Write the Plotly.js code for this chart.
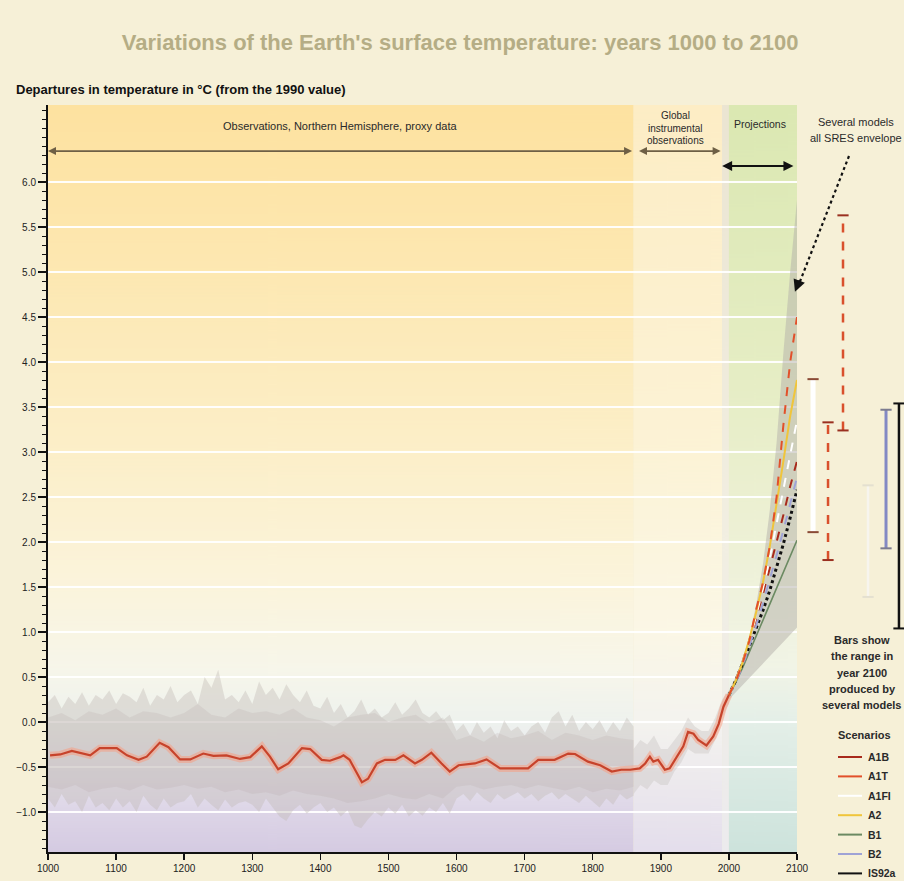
<!DOCTYPE html>
<html><head><meta charset="utf-8">
<script src="https://cdn.plot.ly/plotly-3.0.1.min.js"></script>
<style>html,body{margin:0;padding:0;background:#f6f0d7;}#chart{width:904px;height:881px;}</style>
</head><body><div id="chart"></div>
<script>
// ================= DATA =================
const proxyYears = [1000,1010,1020,1030,1040,1050,1060,1070,1080,1090,
  1100,1110,1120,1130,1140,1150,1160,1170,1180,1190,
  1200,1210,1220,1230,1240,1250,1260,1270,1280,1290,
  1300,1310,1320,1330,1340,1350,1360,1370,1380,1390,
  1400,1410,1420,1430,1440,1450,1460,1470,1480,1490,
  1500,1510,1520,1530,1540,1550,1560,1570,1580,1590,
  1600,1610,1620,1630,1640,1650,1660,1670,1680,1690,
  1700,1710,1720,1730,1740,1750,1760,1770,1780,1790,
  1800,1810,1820,1830,1840,1850,1860];
const proxyHigh = [0.22,0.30,0.15,0.28,0.20,0.33,0.18,0.30,0.25,0.35,
  0.20,0.32,0.28,0.22,0.38,0.18,0.30,0.25,0.40,0.22,
  0.30,0.35,0.20,0.50,0.38,0.58,0.25,0.30,0.22,0.35,
  0.20,0.45,0.30,0.38,0.25,0.42,0.30,0.22,0.35,0.18,
  0.15,0.28,0.10,0.20,0.05,0.12,0.25,0.08,0.15,0.05,
  0.10,0.22,0.08,0.15,0.25,0.10,0.05,0.12,0.02,0.08,
  -0.10,-0.02,-0.15,0.00,-0.12,-0.05,-0.18,0.02,-0.10,-0.05,
  -0.15,-0.05,0.00,-0.12,0.05,0.12,-0.05,0.08,-0.10,0.00,
  -0.08,0.02,-0.12,0.00,-0.10,0.05,-0.05];
const proxyLow = [-0.85,-0.95,-0.80,-0.92,-0.88,-1.00,-0.82,-0.95,-0.90,-0.98,
  -0.85,-0.95,-0.88,-1.00,-0.82,-0.92,-0.98,-0.85,-0.95,-0.90,
  -0.88,-0.80,-0.95,-0.85,-0.92,-0.98,-0.86,-0.95,-0.90,-0.88,
  -0.92,-1.00,-0.85,-0.95,-1.05,-1.10,-0.98,-0.92,-1.02,-0.95,
  -0.90,-1.00,-0.95,-1.05,-0.98,-1.15,-1.18,-1.08,-1.00,-1.05,
  -0.95,-1.02,-0.92,-1.05,-0.98,-1.04,-0.95,-1.00,-0.90,-1.02,
  -0.85,-0.80,-0.88,-0.78,-0.85,-0.90,-0.80,-0.86,-0.82,-0.78,
  -0.85,-0.80,-0.88,-0.82,-0.78,-0.86,-0.80,-0.85,-0.90,-0.82,
  -0.88,-0.95,-0.85,-0.92,-0.80,-0.86,-0.82];
const coreYears = [1000,1020,1040,1060,1080,1100,1120,1140,1160,1180,
  1200,1220,1240,1260,1280,1300,1320,1340,1360,1380,
  1400,1420,1440,1460,1480,1500,1520,1540,1560,1580,
  1600,1620,1640,1660,1680,1700,1720,1740,1760,1780,
  1800,1820,1840,1860];
const coreHigh = [0.05,0.10,0.02,0.12,0.08,0.15,0.05,0.12,0.10,0.05,
  0.10,0.20,0.08,0.05,0.15,0.10,0.12,0.08,0.15,0.05,
  0.02,-0.05,0.05,0.08,0.10,0.00,0.05,0.08,-0.02,0.05,
  -0.20,-0.15,-0.22,-0.12,-0.18,-0.15,-0.10,-0.20,-0.12,-0.15,
  -0.20,-0.15,-0.18,-0.20];
const coreLow = [-0.72,-0.75,-0.70,-0.78,-0.74,-0.72,-0.76,-0.70,-0.75,-0.73,
  -0.70,-0.74,-0.72,-0.78,-0.75,-0.80,-0.78,-0.82,-0.76,-0.80,
  -0.82,-0.85,-0.90,-0.88,-0.85,-0.80,-0.84,-0.86,-0.80,-0.85,
  -0.72,-0.70,-0.75,-0.72,-0.70,-0.74,-0.70,-0.73,-0.76,-0.72,
  -0.78,-0.74,-0.76,-0.72];
const instrYears = [1860,1870,1880,1890,1900,1910,1920,1930,1940,1950,1960,1970,1980,1990,2000];
const instrHigh = [-0.30,-0.20,-0.25,-0.15,-0.30,-0.30,-0.20,-0.10,0.05,-0.05,-0.10,-0.10,0.05,0.25,0.35];
const instrLow  = [-0.80,-0.70,-0.75,-0.65,-0.70,-0.70,-0.55,-0.45,-0.30,-0.35,-0.35,-0.35,-0.20,0.05,0.20];

const redYears = [1003,1018,1035,1052,1062,1076,1101,1116,1133,1145,1164,1177,1194,1209,1228,1243,1262,1282,1297,
  1314,1326,1338,1353,1373,1385,1402,1414,1429,1434,1443,1461,1470,1483,1495,1510,1522,1539,1549,1563,1578,1590,
  1603,1627,1644,1664,1705,1720,1744,1764,1774,1793,1811,1828,1842,1855,1869,1877,1884,1889,1896,1906,1913,1923,
  1933,1940,1948,1955,1967,1977,1985,1992,2000];
const redTemps = [-0.37,-0.36,-0.32,-0.35,-0.37,-0.29,-0.29,-0.37,-0.42,-0.385,-0.23,-0.28,-0.415,-0.415,-0.35,-0.375,-0.37,-0.41,-0.39,
  -0.27,-0.385,-0.525,-0.46,-0.29,-0.30,-0.42,-0.43,-0.39,-0.37,-0.42,-0.67,-0.63,-0.46,-0.42,-0.42,-0.37,-0.46,-0.42,-0.34,-0.46,-0.55,
  -0.48,-0.46,-0.415,-0.515,-0.515,-0.42,-0.42,-0.35,-0.355,-0.44,-0.48,-0.55,-0.53,-0.53,-0.515,-0.46,-0.385,-0.44,-0.42,-0.53,-0.515,-0.385,
  -0.27,-0.11,-0.13,-0.20,-0.26,-0.16,-0.02,0.17,0.30];

const projYears = [2000,2010,2020,2030,2040,2050,2060,2070,2080,2090,2100];
const envHigh = [0.35,0.50,0.70,0.95,1.30,1.75,2.35,3.10,4.10,5.00,5.80];
const envLow  = [0.25,0.33,0.42,0.50,0.58,0.66,0.74,0.82,0.90,0.98,1.05];
const scenarioNames = ['A1B','A1T','A1FI','A2','B1','B2','IS92a'];
const projA1B  = [0.30,0.47,0.67,0.90,1.15,1.42,1.70,2.00,2.30,2.62,2.90];
const projA1T  = [0.30,0.45,0.65,0.90,1.25,1.55,1.95,2.50,3.30,4.00,4.50];
const projA1FI = [0.30,0.46,0.66,0.90,1.18,1.48,1.82,2.20,2.60,3.00,3.35];
const projA2   = [0.30,0.46,0.66,0.92,1.22,1.55,1.95,2.40,2.90,3.40,3.80];
const projB1   = [0.30,0.44,0.60,0.78,0.96,1.13,1.30,1.48,1.66,1.84,2.02];
const projB2   = [0.30,0.44,0.62,0.84,1.07,1.32,1.58,1.85,2.13,2.42,2.72];
const projIS92a= [0.30,0.46,0.65,0.84,1.03,1.24,1.46,1.72,1.98,2.27,2.58];

const barNames = ['A1FI','A1T','A1B','B1','B2','IS92a'];
const barLow  = [2.11,1.80,3.24,1.39,1.93,1.04];
const barHigh = [3.81,3.33,5.63,2.63,3.47,3.54];

const xTickVals = [1000,1100,1200,1300,1400,1500,1600,1700,1800,1900,2000,2100];
const xTickText = ['1000','1100','1200','1300','1400','1500','1600','1700','1800','1900','2000','2100'];
const yTickVals = [-1.0,-0.5,0.0,0.5,1.0,1.5,2.0,2.5,3.0,3.5,4.0,4.5,5.0,5.5,6.0];

// ================= STYLE / LAYOUT =================
const FONT = 'Liberation Sans, Arial, Helvetica, sans-serif';
const W=904, H=881, ML=48, MT=105, MB=29, MR=0;
const PW=W-ML-MR, PH=H-MT-MB;
const px = p => (p-ML)/PW;
const py = p => (H-MB-p)/PH;
const Y0=-1.444, Y1=6.856;
const XDOM = (797-ML)/PW;

const scenStyle = {
  A1B:{color:'#a82a1c',dash:'dash',width:2},
  A1T:{color:'#e2502a',dash:'dash',width:2},
  A1FI:{color:'#ffffff',dash:'dash',width:2},
  A2:{color:'#f0c53a',dash:'solid',width:2},
  B1:{color:'#6b8a62',dash:'solid',width:1.6},
  B2:{color:'#9fa3d6',dash:'dash',width:2},
  IS92a:{color:'#111111',dash:'dot',width:3}
};
const projData = {A1B:projA1B,A1T:projA1T,A1FI:projA1FI,A2:projA2,B1:projB1,B2:projB2,IS92a:projIS92a};
const barSlots = [0.15,0.29,0.43,0.664,0.832,0.953];
const barStyle = [
  {color:'#ffffff',width:5,dash:'solid',cap:'#8a4a35'},
  {color:'#d9502c',width:2.5,dash:'dash',cap:'#9a3020'},
  {color:'#d9502c',width:2.5,dash:'dash',cap:'#9a3020'},
  {color:'#f7f5ee',width:2.5,dash:'solid',cap:'#e4e0d0'},
  {color:'#8389c4',width:3,dash:'solid',cap:'#7c7c90'},
  {color:'#111111',width:2.5,dash:'solid',cap:'#111111'}
];

function grad(stops){
  const h=830, c=document.createElement('canvas'); c.width=4; c.height=h;
  const g=c.getContext('2d'); const lg=g.createLinearGradient(0,0,0,h);
  stops.forEach(s=>lg.addColorStop(Math.min(1,Math.max(0,(Y1-s[0])/(Y1-Y0))), s[1]));
  g.fillStyle=lg; g.fillRect(0,0,4,h); return c.toDataURL();
}
const bgRegions = [
  {x0:1000,x1:1860,stops:[[6.856,'#fde2a0'],[5.0,'#fde8b2'],[3.0,'#fcefc9'],[1.5,'#fbf4dc'],[0.6,'#f7f6ea'],[0.0,'#eef2ee'],[-0.5,'#e8e6ee'],[-1.0,'#ddd5e7'],[-1.444,'#d5cbe2']]},
  {x0:1860,x1:1990,stops:[[6.856,'#fdedc5'],[3.0,'#fcf3d6'],[1.0,'#fbf7e6'],[0.0,'#f4f3ef'],[-1.444,'#e4deec']]},
  {x0:1990,x1:2000,stops:[[6.856,'#ebe5d2'],[2.0,'#f2efe2'],[-1.444,'#ecebee']]},
  {x0:2000,x1:2100,stops:[[6.856,'#dbe8b2'],[4.0,'#e5edc3'],[2.0,'#eef1d6'],[0.6,'#f1f4e6'],[0.0,'#e4efe8'],[-1.444,'#cde3dc']]}
];
const images = bgRegions.map(r=>({source:grad(r.stops),xref:'x',yref:'y',x:r.x0,y:Y1,sizex:r.x1-r.x0,sizey:Y1-Y0,
  sizing:'stretch',xanchor:'left',yanchor:'top',layer:'below'}));

const traces = [];
const none = {width:0};
traces.push({x:proxyYears,y:proxyLow,mode:'lines',line:none,hoverinfo:'skip',showlegend:false});
traces.push({x:proxyYears,y:proxyHigh,mode:'lines',line:none,fill:'tonexty',fillcolor:'rgba(192,184,180,0.38)',hoverinfo:'skip',showlegend:false});
traces.push({x:coreYears,y:coreLow,mode:'lines',line:none,hoverinfo:'skip',showlegend:false});
traces.push({x:coreYears,y:coreHigh,mode:'lines',line:none,fill:'tonexty',fillcolor:'rgba(180,170,167,0.22)',hoverinfo:'skip',showlegend:false});
traces.push({x:instrYears,y:instrLow,mode:'lines',line:none,hoverinfo:'skip',showlegend:false});
traces.push({x:instrYears,y:instrHigh,mode:'lines',line:none,fill:'tonexty',fillcolor:'rgba(200,194,192,0.40)',hoverinfo:'skip',showlegend:false});
traces.push({x:projYears,y:envLow,mode:'lines',line:none,hoverinfo:'skip',showlegend:false});
traces.push({x:projYears,y:envHigh,mode:'lines',line:none,fill:'tonexty',fillcolor:'rgba(180,176,170,0.50)',hoverinfo:'skip',showlegend:false});
['B1','IS92a','B2','A1B','A1FI','A2','A1T'].forEach(n=>{
  traces.push({x:projYears,y:projData[n],mode:'lines',name:n,line:scenStyle[n],showlegend:false});
});
traces.push({x:redYears,y:redTemps,mode:'lines',line:{color:'rgba(246,158,132,0.55)',width:7},hoverinfo:'skip',showlegend:false});
traces.push({x:redYears,y:redTemps,mode:'lines',line:{color:'#c7432b',width:2.2},showlegend:false});
barNames.forEach((n,i)=>{
  const s=barStyle[i];
  traces.push({x:[barSlots[i],barSlots[i]],y:[barLow[i],barHigh[i]],xaxis:'x2',yaxis:'y2',mode:'lines',
    line:{color:s.color,width:s.width,dash:s.dash},name:n,showlegend:false});
  traces.push({x:[barSlots[i],barSlots[i]],y:[barLow[i],barHigh[i]],xaxis:'x2',yaxis:'y2',mode:'markers',
    marker:{symbol:'line-ew',size:8,line:{width:2,color:s.cap}},showlegend:false});
});

const txt = (t,x,y,o={}) => Object.assign({text:t,x:px(x),y:py(y),xref:'paper',yref:'paper',showarrow:false,
  xanchor:'center',yanchor:'middle',font:{family:FONT,size:10,color:'#2a2a2a'}},o);
const annotations = [
  txt('<b>Departures in temperature in °C (from the 1990 value)</b>',14,90,{xanchor:'left',font:{family:FONT,size:13,color:'#111'}}),
  txt('Observations, Northern Hemisphere, proxy data',340,126,{font:{family:FONT,size:11,color:'#2a2a2a'}}),
  txt('Global',675,116,{font:{family:FONT,size:10,color:'#2a2a2a'}}),
  txt('instrumental',675,128,{font:{family:FONT,size:10,color:'#2a2a2a'}}),
  txt('observations',675,140,{font:{family:FONT,size:10,color:'#2a2a2a'}}),
  txt('Projections',760,124,{font:{family:FONT,size:10.5,color:'#2a2a2a'}}),
  txt('Several models',856,122,{font:{family:FONT,size:11,color:'#2a2a2a'}}),
  txt('all SRES envelope',856,138,{font:{family:FONT,size:11,color:'#2a2a2a'}}),
  {x:1000,y:6.344,ax:1860,ay:6.344,xref:'x',yref:'y',axref:'x',ayref:'y',text:'',showarrow:true,arrowside:'end+start',
    arrowhead:2,arrowsize:1,arrowwidth:1.6,arrowcolor:'#6e5f45'},
  {x:1868,y:6.344,ax:1990,ay:6.344,xref:'x',yref:'y',axref:'x',ayref:'y',text:'',showarrow:true,arrowside:'end+start',
    arrowhead:2,arrowsize:1,arrowwidth:1.6,arrowcolor:'#6e5f45'},
  {x:1990,y:6.178,ax:2097,ay:6.178,xref:'x',yref:'y',axref:'x',ayref:'y',text:'',showarrow:true,arrowside:'end+start',
    arrowhead:2,arrowsize:1,arrowwidth:2,arrowcolor:'#111'},
  {x:2097,y:4.78,ax:5,ay:-13,xref:'x',yref:'y',text:'',showarrow:true,arrowhead:2,arrowsize:1.2,arrowwidth:2,arrowcolor:'#111'}
];
const noteLines = ['Bars show','the range in','year 2100','produced by','several models'];
noteLines.forEach((t,i)=>annotations.push(txt('<b>'+t+'</b>',862,640+i*16.3,{font:{family:FONT,size:11,color:'#2a2a2a'}})));
annotations.push(txt('<b>Scenarios</b>',864,735,{font:{family:FONT,size:11,color:'#2a2a2a'}}));
const shapes = [
  {type:'line',xref:'paper',yref:'paper',x0:px(849),y0:py(156),x1:px(799),y1:py(284),line:{color:'#111',width:2.2,dash:'dot'}}
];
scenarioNames.forEach((n,i)=>{
  const yy=757+i*19.4;
  shapes.push({type:'line',xref:'paper',yref:'paper',x0:px(838),x1:px(862),y0:py(yy),y1:py(yy),line:{color:scenStyle[n].color,width:2}});
  annotations.push(txt('<b>'+n+'</b>',866,yy,{xanchor:'left',font:{family:FONT,size:10.5,color:'#2a2a2a'}}));
});

const layout = {
  width:W,height:H,margin:{l:ML,r:MR,t:MT,b:MB},
  paper_bgcolor:'#f6f0d7',plot_bgcolor:'rgba(0,0,0,0)',
  font:{family:FONT,size:10,color:'#222'},
  title:{text:'<b>Variations of the Earth\'s surface temperature: years 1000 to 2100</b>',x:0.509,y:1-42/H,xanchor:'center',yanchor:'middle',
    font:{family:FONT,size:22,color:'#b5ad85'}},
  showlegend:false,
  xaxis:{domain:[0,XDOM],range:[1000,2100],tickmode:'array',tickvals:xTickVals,ticktext:xTickText,showgrid:false,zeroline:false,
    showline:true,linecolor:'#111',linewidth:2,ticks:'outside',ticklen:6,tickwidth:1.5,tickcolor:'#111',
    tickfont:{family:FONT,size:10,color:'#222'}},
  yaxis:{range:[Y0,Y1],tickmode:'array',tickvals:yTickVals,tickformat:'.1f',showgrid:true,gridcolor:'rgba(255,255,255,0.95)',gridwidth:2,
    zeroline:false,showline:true,linecolor:'#111',linewidth:2,ticks:'outside',ticklen:8,tickwidth:1.5,tickcolor:'#111',
    minor:{dtick:0.1,ticks:'outside',ticklen:4,tickcolor:'#111',tickwidth:1,showgrid:false},
    tickfont:{family:FONT,size:10,color:'#222'}},
  xaxis2:{domain:[XDOM,1],range:[0,1],anchor:'y2',visible:false,fixedrange:true},
  yaxis2:{range:[Y0,Y1],anchor:'x2',visible:false,fixedrange:true},
  images:images,annotations:annotations,shapes:shapes
};
Plotly.newPlot('chart',traces,layout,{displayModeBar:false,staticPlot:true});
</script></body></html>
